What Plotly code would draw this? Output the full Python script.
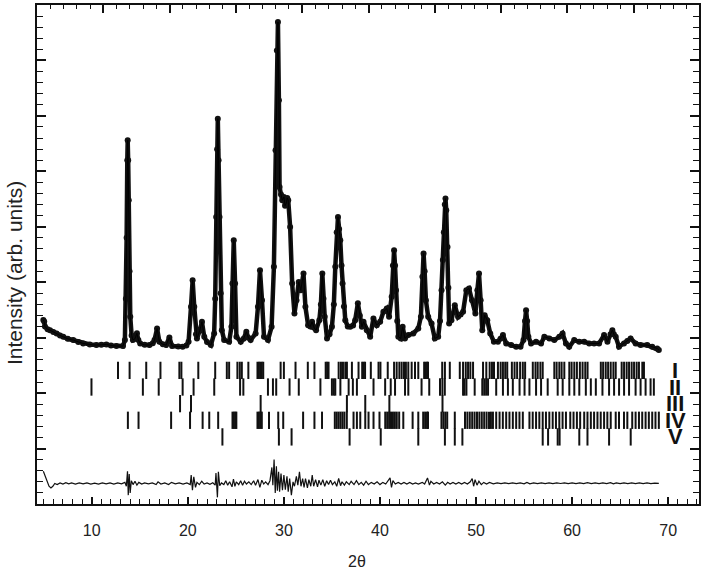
import plotly.graph_objects as go

# ---------------- data ----------------
obs_tt = [4.96, 5.05, 5.13, 5.4, 5.65, 6.0, 6.34, 6.7, 7.03, 7.5, 8.07, 8.6, 9.1, 9.8, 10.48, 11.0, 11.52, 12.0, 12.56, 13.25,
          13.45, 13.55, 13.63, 13.7, 13.74, 13.79, 13.85, 13.93, 14.01, 14.15, 14.28, 14.5, 14.7, 14.85, 15.04, 15.5, 16.01,
          16.35, 16.53, 16.8, 17.04, 17.4, 17.74, 18.08, 18.36, 19.0, 19.46, 19.85, 20.08, 20.33, 20.5, 20.67, 20.85, 20.95,
          21.26, 21.47, 21.71, 22.0, 22.4, 22.74, 22.85, 22.95, 23.05, 23.12, 23.2, 23.3, 23.42, 23.54, 23.78, 24.3, 24.54,
          24.64, 24.78, 24.92, 25.06, 25.51, 25.8, 26.09, 26.3, 26.54, 27.06, 27.3, 27.51, 27.72, 27.93, 28.34, 28.72, 28.96,
          29.13, 29.27, 29.38, 29.48, 29.55, 29.7, 29.83, 30.0, 30.12, 30.24, 30.35, 30.45, 30.65, 30.86, 31.1, 31.31, 31.55,
          31.76, 32.04, 32.24, 32.52, 32.75, 32.93, 33.15, 33.35, 33.69, 33.85, 34.0, 34.12, 34.25, 34.49, 34.75, 35.0, 35.2,
          35.35, 35.5, 35.63, 35.75, 35.87, 36.0, 36.11, 36.25, 36.39, 36.65, 36.91, 37.2, 37.42, 37.7, 37.9, 38.12, 38.29,
          38.63, 38.98, 39.32, 39.67, 40.02, 40.36, 40.71, 40.95, 41.22, 41.35, 41.47, 41.57, 41.67, 41.8, 41.91, 42.16, 42.36,
          42.6, 42.95, 43.47, 43.99, 44.26, 44.42, 44.54, 44.65, 44.78, 45.02, 45.37, 45.71, 46.06, 46.25, 46.41, 46.55, 46.65,
          46.75, 46.82, 46.9, 47.03, 47.12, 47.2, 47.44, 47.79, 48.13, 48.4, 48.65, 48.99, 49.27, 49.58, 49.93, 50.14, 50.31,
          50.48, 50.65, 50.9, 51.17, 51.48, 51.86, 52.28, 52.55, 52.8, 53.14, 53.66, 54.18, 54.63, 54.94, 55.1, 55.21, 55.32,
          55.45, 55.73, 56.25, 56.77, 57.11, 57.63, 58.15, 58.67, 59.01, 59.36, 59.7, 60.22, 60.74, 61.26, 61.78, 62.29, 62.81,
          63.33, 63.68, 64.0, 64.19, 64.35, 64.54, 64.88, 65.4, 65.75, 66.09, 66.61, 67.13, 67.82, 68.34, 68.86, 69.03]
obs_int = [16.6, 16.45, 16.0, 15.75, 15.68, 15.5, 15.38, 15.2, 15.08, 14.9, 14.78, 14.6, 14.48, 14.38, 14.33, 14.36, 14.39, 14.3, 14.24, 14.24,
           14.8, 18.5, 24.0, 31.0, 32.8, 31.0, 27.4, 21.0, 16.88, 15.2, 14.8, 14.9, 15.4, 14.8, 14.48, 14.35, 14.33,
           14.5, 14.78, 15.83, 14.63, 14.4, 14.33, 15.02, 14.24, 14.2, 14.18, 14.3, 14.63, 17.78, 20.18, 17.78, 15.3, 14.93,
           15.68, 16.43, 15.08, 14.6, 14.33, 15.38, 18.5, 25.89, 32.0, 34.75, 31.0, 25.89, 19.0, 15.68, 14.78, 14.63, 15.98,
           19.88, 23.79, 19.88, 15.08, 14.63, 14.9, 15.53, 15.0, 14.78, 15.38, 17.78, 21.09, 18.38, 15.08, 14.78, 15.98, 21.39,
           31.9, 40.9, 43.46, 36.4, 28.59, 27.9, 27.39, 27.69, 26.9, 27.09, 27.6, 27.39, 24.99, 19.88, 17.18, 18.38, 20.03,
           19.28, 20.78, 17.78, 16.13, 16.0, 16.43, 15.9, 15.68, 16.58, 18.0, 20.78, 18.5, 16.88, 14.93, 15.3, 15.98, 18.0,
           21.39, 24.5, 25.89, 24.8, 23.79, 21.5, 19.88, 17.8, 16.58, 16.0, 15.98, 16.1, 16.58, 18.1, 17.0, 15.98, 16.43,
           15.68, 15.08, 16.73, 16.13, 16.43, 17.33, 17.63, 16.88, 18.68, 21.5, 22.88, 21.5, 19.28, 16.5, 15.08, 14.93, 15.98,
           14.93, 15.23, 15.38, 15.83, 16.88, 20.5, 22.58, 21.0, 18.38, 16.88, 16.28, 14.93, 15.08, 16.5, 19.28, 22.0, 24.5,
           27.0, 27.54, 26.5, 23.18, 19.5, 16.28, 16.58, 17.93, 16.88, 17.1, 17.33, 19.28, 19.43, 18.38, 17.18, 19.28, 20.78,
           18.38, 15.68, 17.03, 16.58, 15.38, 14.63, 14.63, 14.9, 15.23, 14.48, 14.33, 14.18, 14.18, 14.78, 16.5, 17.48, 16.5,
           15.08, 14.48, 14.63, 14.48, 15.08, 14.93, 14.78, 15.08, 15.38, 14.48, 14.18, 14.78, 14.63, 14.63, 14.48, 14.48, 14.48,
           15.23, 14.63, 15.3, 15.68, 15.3, 15.08, 14.18, 14.48, 14.7, 14.93, 14.48, 14.33, 14.33, 14.18, 14.03, 13.88]

diff_tt = [4.96, 5.15, 5.35, 5.55, 5.75, 5.95, 6.15, 6.4, 6.7, 7.0, 7.3, 7.6, 7.9, 8.3, 8.7, 9.1, 9.5, 9.9, 10.3, 10.7,
           11.1, 11.5, 11.9, 12.3, 12.7, 13.1, 13.45, 13.6, 13.72, 13.8, 13.9, 14.0, 14.12, 14.3, 14.5, 14.7, 14.9, 15.2,
           15.5, 15.9, 16.3, 16.7, 16.9, 17.2, 17.6, 18.0, 18.3, 18.7, 19.1, 19.5, 19.9, 20.25, 20.35, 20.48, 20.62, 20.8,
           20.95, 21.2, 21.45, 21.7, 22.0, 22.3, 22.6, 22.85, 22.93, 23.08, 23.18, 23.32, 23.5, 23.75, 23.95, 24.15, 24.35,
           24.6, 24.75, 24.9, 25.05, 25.3, 25.5, 25.7, 25.9, 26.1, 26.35, 26.6, 26.85, 27.05, 27.3, 27.5, 27.7, 27.9, 28.1,
           28.35, 28.55, 28.75, 28.85, 28.98, 29.1, 29.22, 29.32, 29.45, 29.55, 29.7, 29.85, 30.0, 30.15, 30.32, 30.45, 30.6,
           30.78, 30.95, 31.1, 31.3, 31.45, 31.62, 31.78, 31.95, 32.1, 32.25, 32.45, 32.6, 32.8, 32.95, 33.1, 33.3, 33.5,
           33.65, 33.85, 34.05, 34.25, 34.45, 34.65, 34.85, 35.05, 35.3, 35.5, 35.7, 35.9, 36.05, 36.3, 36.5, 36.8, 37.0,
           37.3, 37.55, 37.8, 38.05, 38.3, 38.55, 38.8, 39.1, 39.4, 39.7, 40.0, 40.3, 40.6, 40.85, 41.05, 41.2, 41.35, 41.6,
           41.9, 42.2, 42.5, 42.8, 43.1, 43.4, 43.7, 44.0, 44.4, 44.65, 44.95, 45.15, 45.3, 45.6, 45.9, 46.2, 46.5, 46.8,
           47.05, 47.3, 47.6, 47.9, 48.2, 48.5, 48.8, 49.1, 49.4, 49.6, 49.75, 49.9, 50.1, 50.3, 50.55, 50.8, 51.1, 51.4,
           51.8, 52.2, 52.6, 53.0, 53.4, 53.8, 54.2, 54.6, 55.0, 55.3, 55.6, 56.0, 56.4, 56.8, 57.2, 57.6, 58.0, 58.4, 58.8,
           59.2, 59.6, 60.0, 60.4, 60.8, 61.2, 61.6, 62.0, 62.4, 62.8, 63.2, 63.6, 64.0, 64.3, 64.6, 65.0, 65.4, 65.8, 66.2,
           66.6, 67.0, 67.4, 67.8, 68.2, 68.6, 69.03]
diff_int = [2.95, 2.5, 2.0, 1.6, 1.45, 1.6, 1.85, 1.75, 1.9, 1.8, 1.92, 1.82, 1.9, 1.8, 1.9, 1.82, 1.9, 1.8, 1.88, 1.8,
            1.9, 1.82, 1.9, 1.8, 1.9, 1.82, 1.95, 1.6, 2.95, 0.8, 2.7, 1.0, 2.1, 1.75, 2.05, 1.7, 1.95, 1.8,
            1.9, 1.82, 1.9, 1.75, 2.0, 1.8, 1.9, 1.75, 1.95, 1.82, 1.9, 1.8, 1.9, 1.75, 2.6, 1.25, 2.45, 1.5,
            1.95, 1.75, 2.05, 1.8, 1.9, 1.78, 1.92, 1.7, 2.8, 0.6, 2.9, 1.65, 1.9, 1.75, 2.1, 1.7, 2.0,
            1.55, 2.25, 1.6, 2.0, 1.75, 2.1, 1.7, 2.05, 1.8, 2.0, 1.75, 2.1, 1.7, 2.2, 1.5, 2.15, 1.8, 2.0,
            1.75, 2.1, 3.3, 1.7, 4.0, 1.0, 3.4, 1.2, 2.9, 1.1, 2.75, 1.25, 2.6, 1.3, 2.5, 1.1, 2.3,
            0.8, 2.0, 1.6, 2.5, 1.7, 2.9, 1.6, 2.3, 1.5, 2.3, 1.45, 2.2, 1.6, 2.6, 1.6, 2.2, 1.55,
            2.15, 1.7, 2.2, 1.6, 2.1, 1.75, 2.15, 1.75, 2.0, 1.6, 2.3, 1.65, 2.0, 1.7, 2.0, 1.75, 2.05,
            1.75, 2.1, 1.75, 1.95, 1.7, 2.05, 1.75, 1.95, 1.8, 2.0, 1.75, 1.95, 1.8, 2.05, 2.35, 1.5, 2.1, 1.8,
            1.95, 1.8, 1.95, 1.8, 1.95, 1.8, 1.9, 1.8, 1.95, 1.8, 2.35, 1.7, 2.05, 1.8, 1.95, 1.8, 2.0, 1.7,
            1.95, 1.8, 1.95, 1.8, 1.95, 1.8, 1.95, 1.8, 2.0, 2.3, 1.6, 2.2, 1.7, 2.05, 1.75, 1.95, 1.8, 1.95,
            1.82, 1.9, 1.83, 1.9, 1.84, 1.9, 1.84, 1.9, 1.82, 1.95, 1.82, 1.9, 1.84, 1.9, 1.84, 1.9, 1.84, 1.9, 1.85,
            1.9, 1.84, 1.9, 1.84, 1.9, 1.84, 1.92, 1.84, 1.9, 1.84, 1.9, 1.84, 1.92, 1.82, 1.9, 1.84, 1.9, 1.84, 1.9,
            1.84, 1.9, 1.84, 1.9, 1.84, 1.88, 1.86]

# Bragg reflection positions (2theta) for phases I..V
phase_names = ["I", "II", "III", "IV", "V"]
refl_I = [12.73, 13.94, 15.67, 17.15, 19.12, 19.33, 21.09, 22.85, 24.06, 24.30, 25.16, 25.41, 25.62, 26.30,
          27.25, 27.4, 27.55, 27.7, 27.85, 29.66, 30.0, 31.21, 32.49, 33.18, 34.35, 34.5, 34.65, 35.7, 35.94,
          36.15, 36.39, 36.56, 37.08, 37.77, 38.15, 38.3, 38.45, 39.05, 39.85, 40.05, 40.81, 41.47, 41.74, 42.02,
          42.26, 42.5, 42.7, 42.95, 43.3, 43.65, 43.99, 44.6, 44.75, 44.9, 45.0, 46.48, 46.76, 47.27, 48.31, 48.65,
          48.93, 49.17, 49.41, 49.69, 50.73, 51.07, 51.42, 51.66, 51.87, 52.28, 52.56, 52.8, 53.04, 53.25, 53.73,
          54.01, 54.28, 54.59, 54.87, 55.11, 55.91, 56.19, 56.42, 56.7, 56.94, 58.15, 58.39, 58.67, 58.91, 59.19,
          59.71, 59.95, 60.23, 60.5, 60.81, 61.09, 61.37, 61.61, 62.99, 63.23, 63.5, 63.75, 64.02, 64.3, 64.54,
          65.16, 65.41, 65.68, 65.93, 66.2, 66.45, 66.72, 66.96, 67.31, 67.48]
refl_II = [9.97, 15.32, 16.97, 19.46, 20.6, 22.75, 25.44, 25.78, 28.34, 28.86, 29.2, 30.59, 31.55, 33.8, 35.0,
           35.2, 35.35, 35.88, 36.74, 37.18, 37.6, 39.33, 40.54, 41.12, 41.57, 42.61, 42.95, 44.33, 45.13, 46.25,
           46.5, 46.75, 48.65, 48.8, 49.0, 49.86, 50.65, 50.85, 51.05, 51.25, 52.1, 52.8, 53.32, 53.83, 54.53,
           55.05, 55.56, 56.25, 56.77, 57.46, 58.5, 59.02, 59.71, 60.23, 60.75, 61.43, 61.95, 62.47, 63.16, 63.85,
           64.37, 64.89, 65.41, 65.93, 66.61, 67.13, 67.65, 68.17, 68.51]
refl_III = [19.19, 20.33, 27.58, 36.56, 38.47, 40.98, 46.51]
refl_IV = [13.76, 14.87, 18.26, 20.23, 21.54, 22.23, 23.16, 24.65, 24.8, 24.95, 25.05, 27.25, 27.4, 27.55, 27.7,
           28.45, 29.41, 29.93, 32.0, 33.18, 33.97, 35.3, 35.5, 35.7, 35.9, 36.1, 36.3, 36.55, 37.25, 37.6, 37.95,
           38.47, 38.81, 39.33, 39.95, 40.55, 40.75, 40.95, 41.15, 41.35, 41.55, 41.75, 42.0, 42.43, 43.4, 43.99,
           44.5, 44.7, 44.9, 45.0, 46.4, 46.6, 46.8, 47.0, 47.79, 48.85, 49.1, 49.35, 49.6, 49.85, 50.1, 50.35, 50.6,
           50.85, 51.1, 51.35, 51.55, 51.76, 52.1, 52.45, 52.79, 53.14, 53.48, 53.83, 54.18, 54.52, 54.87, 55.56,
           55.9, 56.25, 56.59, 56.94, 57.28, 57.63, 57.98, 58.32, 58.67, 59.01, 59.36, 59.81, 60.15, 60.5, 60.84,
           61.26, 61.6, 61.95, 62.29, 62.64, 62.98, 63.33, 63.67, 64.02, 64.54, 64.88, 65.4, 65.75, 66.26, 66.61,
           66.96, 67.3, 67.65, 67.99, 68.34, 68.68, 69.03]
refl_V = [23.6, 29.48, 30.8, 36.84, 40.08, 43.99, 46.76, 47.79, 48.58, 56.94, 57.5, 58.5, 58.7, 60.75, 61.6,
          63.85, 66.1]

x_tick_labels = ["10", "20", "30", "40", "50", "60", "70"]
x_tick_vals = [10, 20, 30, 40, 50, 60, 70]

# ---------------- layout constants ----------------
row_centers = [12.05, 10.55, 9.05, 7.55, 6.05]
row_half = 0.78
FONT = "Liberation Sans, Arial, sans-serif"
INK = "#111111"

fig = go.Figure()

# observed data (dense dots -> thick line with markers)
fig.add_trace(go.Scatter(x=obs_tt, y=obs_int, mode="lines+markers",
                         line=dict(color=INK, width=4.5),
                         marker=dict(color=INK, size=6),
                         hoverinfo="skip", showlegend=False))
# calculated profile (thin line on top)
fig.add_trace(go.Scatter(x=obs_tt, y=obs_int, mode="lines",
                         line=dict(color="#000000", width=1),
                         hoverinfo="skip", showlegend=False))

# reflection markers
for refl, c in zip([refl_I, refl_II, refl_III, refl_IV, refl_V], row_centers):
    xs, ys = [], []
    for p in refl:
        xs += [p, p, None]
        ys += [c - row_half, c + row_half, None]
    fig.add_trace(go.Scatter(x=xs, y=ys, mode="lines",
                             line=dict(color=INK, width=2),
                             hoverinfo="skip", showlegend=False))

# difference curve
fig.add_trace(go.Scatter(x=diff_tt, y=diff_int, mode="lines",
                         line=dict(color=INK, width=1.2),
                         hoverinfo="skip", showlegend=False))

# dummy (invisible) trace to activate the top axis
fig.add_trace(go.Scatter(x=[0], y=[-10], xaxis="x2", mode="markers",
                         marker=dict(opacity=0), hoverinfo="skip", showlegend=False))

for name, c in zip(phase_names, row_centers):
    fig.add_annotation(x=0.9639, xref="paper", y=c, yref="y", text=name, showarrow=False,
                       xanchor="center", yanchor="middle",
                       font=dict(family=FONT, size=22, color=INK, weight="bold"))

fig.add_annotation(x=-0.033, xref="paper", y=0.463, yref="paper", text="Intensity (arb. units)",
                   textangle=-90, showarrow=False, xanchor="center", yanchor="middle",
                   font=dict(family=FONT, size=21, color="#222222"))
fig.add_annotation(x=0.4834, xref="paper", y=-0.1143, yref="paper", text="2θ",
                   showarrow=False, xanchor="center", yanchor="middle",
                   font=dict(family=FONT, size=16, color="#222222"))

fig.update_layout(
    width=705, height=570,
    margin=dict(l=37, r=4, t=5, b=66, pad=0),
    paper_bgcolor="white", plot_bgcolor="white",
    font=dict(family=FONT, size=16, color="#222222"),
    xaxis=dict(range=[4.30, 73.21], tickvals=x_tick_vals, ticktext=x_tick_labels,
               ticks="inside", ticklen=7, tickwidth=1.6, tickcolor=INK,
               minor=dict(dtick=1, tick0=0, ticks="inside", ticklen=5, tickwidth=1.3, tickcolor=INK),
               showline=True, linewidth=2, linecolor=INK, mirror=False,
               showgrid=False, zeroline=False, ticklabelstandoff=11,
               tickfont=dict(family=FONT, size=16, color="#222222")),
    xaxis2=dict(overlaying="x", side="top", anchor="y", range=[0, 49.92], dtick=5, tick0=0,
                ticks="inside", ticklen=8, tickwidth=1.8, tickcolor=INK,
                minor=dict(dtick=1, tick0=0, ticks="inside", ticklen=4, tickwidth=1.3, tickcolor=INK),
                showticklabels=False, showline=True, linewidth=2, linecolor=INK,
                showgrid=False, zeroline=False),
    yaxis=dict(range=[0, 45], dtick=5, tick0=0, ticks="inside", ticklen=9, tickwidth=1.8,
               tickcolor=INK,
               minor=dict(dtick=1, tick0=0, ticks="inside", ticklen=6, tickwidth=1.3, tickcolor=INK),
               showticklabels=False, showline=True, linewidth=2, linecolor=INK, mirror="ticks",
               showgrid=False, zeroline=False),
)

fig.write_html("out.html", config={"displayModeBar": False},
               post_script="document.body.style.margin='0';document.body.style.padding='0';")
